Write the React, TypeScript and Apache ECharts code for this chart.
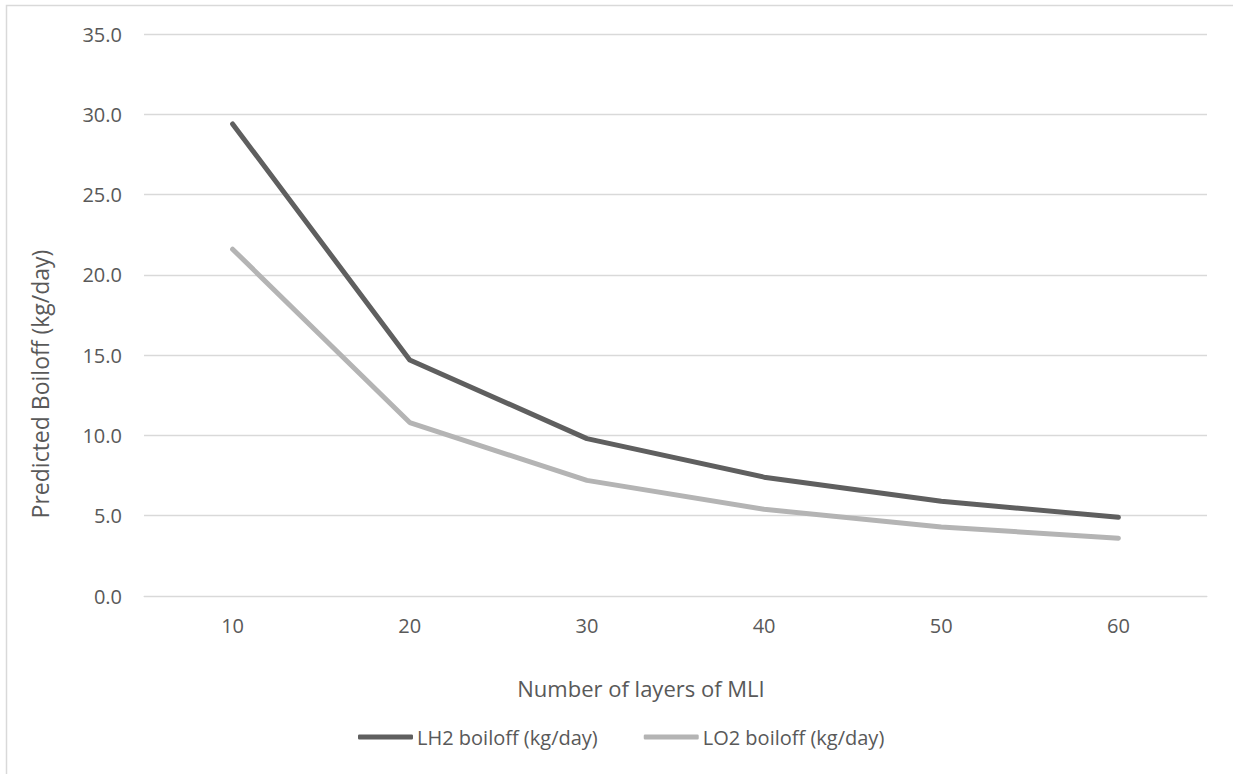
import React, { useEffect, useRef } from "react";
import * as echarts from "echarts";

const categories = ["10", "20", "30", "40", "50", "60"];
const lh2Boiloff = [29.4, 14.7, 9.8, 7.4, 5.9, 4.9];
const lo2Boiloff = [21.6, 10.8, 7.2, 5.4, 4.3, 3.6];
const seriesNames = ["LH2 boiloff (kg/day)", "LO2 boiloff (kg/day)"];
const xTitle = "Number of layers of MLI";
const yTitle = "Predicted Boiloff (kg/day)";

const FONT = "Open Sans";
const TEXT = "#595959";

export default function App() {
  const ref = useRef<HTMLDivElement>(null);
  useEffect(() => {
    if (!ref.current) return;
    const chart = echarts.init(ref.current, null, { renderer: "svg" });
    chart.setOption({
      animation: false,
      backgroundColor: "#ffffff",
      textStyle: { fontFamily: FONT, color: TEXT },
      grid: { left: 144, right: 26, top: 34, bottom: 178, containLabel: false },
      xAxis: {
        type: "category",
        data: categories,
        boundaryGap: true,
        axisLine: { show: true, lineStyle: { color: "#d9d9d9", width: 1 } },
        axisTick: { show: false },
        axisLabel: { color: TEXT, fontSize: 20, fontFamily: FONT, margin: 19 },
        splitLine: { show: false },
      },
      yAxis: {
        type: "value",
        min: 0,
        max: 35,
        interval: 5,
        axisLine: { show: false },
        axisTick: { show: false },
        axisLabel: {
          color: TEXT,
          fontSize: 20,
          fontFamily: FONT,
          margin: 22,
          formatter: (v: number) => v.toFixed(1),
        },
        splitLine: { show: true, lineStyle: { color: "#d9d9d9", width: 1.3 } },
      },
      legend: {
        left: 353,
        top: 722,
        itemWidth: 55,
        itemHeight: 5,
        itemGap: 46,
        icon: "roundRect",
        textStyle: { color: TEXT, fontSize: 20, fontFamily: FONT, padding: [0, 0, 0, -1] },
        data: seriesNames,
      },
      graphic: [
        {
          type: "rect",
          shape: { x: 6.5, y: 5.5, width: 1300, height: 900 },
          style: { fill: "none", stroke: "#d9d9d9", lineWidth: 1.5 },
          silent: true,
        },
        {
          type: "text",
          x: 641,
          y: 688,
          style: {
            text: xTitle,
            fill: TEXT,
            fontSize: 22,
            fontFamily: FONT,
            align: "center",
            verticalAlign: "middle",
          },
        },
        {
          type: "text",
          x: 40,
          y: 384,
          rotation: Math.PI / 2,
          style: {
            text: yTitle,
            fill: TEXT,
            fontSize: 23,
            fontFamily: FONT,
            align: "center",
            verticalAlign: "middle",
          },
        },
      ],
      series: [
        {
          name: seriesNames[0],
          type: "line",
          data: lh2Boiloff,
          symbol: "none",
          lineStyle: { color: "#5f5f5f", width: 5, cap: "round", join: "round" },
          itemStyle: { color: "#5f5f5f" },
        },
        {
          name: seriesNames[1],
          type: "line",
          data: lo2Boiloff,
          symbol: "none",
          lineStyle: { color: "#b4b4b4", width: 5, cap: "round", join: "round" },
          itemStyle: { color: "#b4b4b4" },
        },
      ],
    });
    return () => chart.dispose();
  }, []);
  return (
    <div
      ref={ref}
      style={{ position: "fixed", left: 0, top: 0, width: 1233, height: 774 }}
    />
  );
}
